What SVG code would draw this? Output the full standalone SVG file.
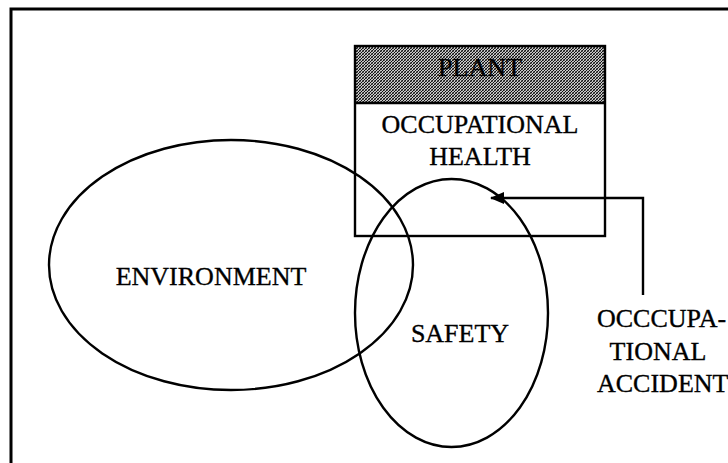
<svg xmlns="http://www.w3.org/2000/svg" width="728" height="463" viewBox="0 0 728 463">
<style>
.ln{fill:none;stroke:#000;stroke-width:2.4}
.t{font-family:"Liberation Serif","Times New Roman",serif;font-size:26px;fill:#000;stroke:#000;stroke-width:0.35}
</style>
<defs>
<pattern id="hatch" width="3" height="3" patternUnits="userSpaceOnUse">
<rect width="3" height="3" fill="#c8c8c8"/>
<path d="M-1,1 L1,-1 M0,3 L3,0 M2,4 L4,2" stroke="#000" stroke-width="0.9"/>
<path d="M-1,2 L1,4 M0,0 L3,3 M2,-1 L4,1" stroke="#000" stroke-width="0.5"/>
</pattern>
<marker id="ah" markerWidth="14" markerHeight="12" refX="13" refY="6" orient="auto" markerUnits="userSpaceOnUse">
<path d="M0,0 L14,6 L0,12 Z" fill="#000"/>
</marker>
</defs>
<rect width="728" height="463" fill="#fff"/>
<g id="frame"><path d="M11,470 L11,9 L740,9" fill="none" stroke="#000" stroke-width="3"/></g>
<g id="plant">
<rect x="355" y="46" width="250" height="57" fill="url(#hatch)"/>
<rect x="355" y="46" width="250" height="190" class="ln" stroke-width="2.6"/>
<line x1="355" y1="103" x2="605" y2="103" class="ln" stroke-width="2.6"/>
<text class="t" x="480" y="76" text-anchor="middle">PLANT</text>
<text class="t" x="480" y="133" text-anchor="middle">OCCUPATIONAL</text>
<text class="t" x="480" y="165" text-anchor="middle">HEALTH</text>
</g>
<g id="environment">
<ellipse cx="231" cy="265" rx="182" ry="125" class="ln"/>
<text class="t" x="211" y="285" text-anchor="middle">ENVIRONMENT</text>
</g>
<g id="safety">
<ellipse cx="451.5" cy="313" rx="96.5" ry="134" class="ln"/>
<text class="t" x="460" y="342" text-anchor="middle">SAFETY</text>
</g>
<g id="accident">
<text class="t" x="597" y="327">OCCCUPA-</text>
<text class="t" x="658" y="360" text-anchor="middle">TIONAL</text>
<text class="t" x="597" y="392">ACCIDENT</text>
</g>
<g id="connectors">
<path d="M643,295 L643,198 L491,198" class="ln" marker-end="url(#ah)"/>
</g>
</svg>
